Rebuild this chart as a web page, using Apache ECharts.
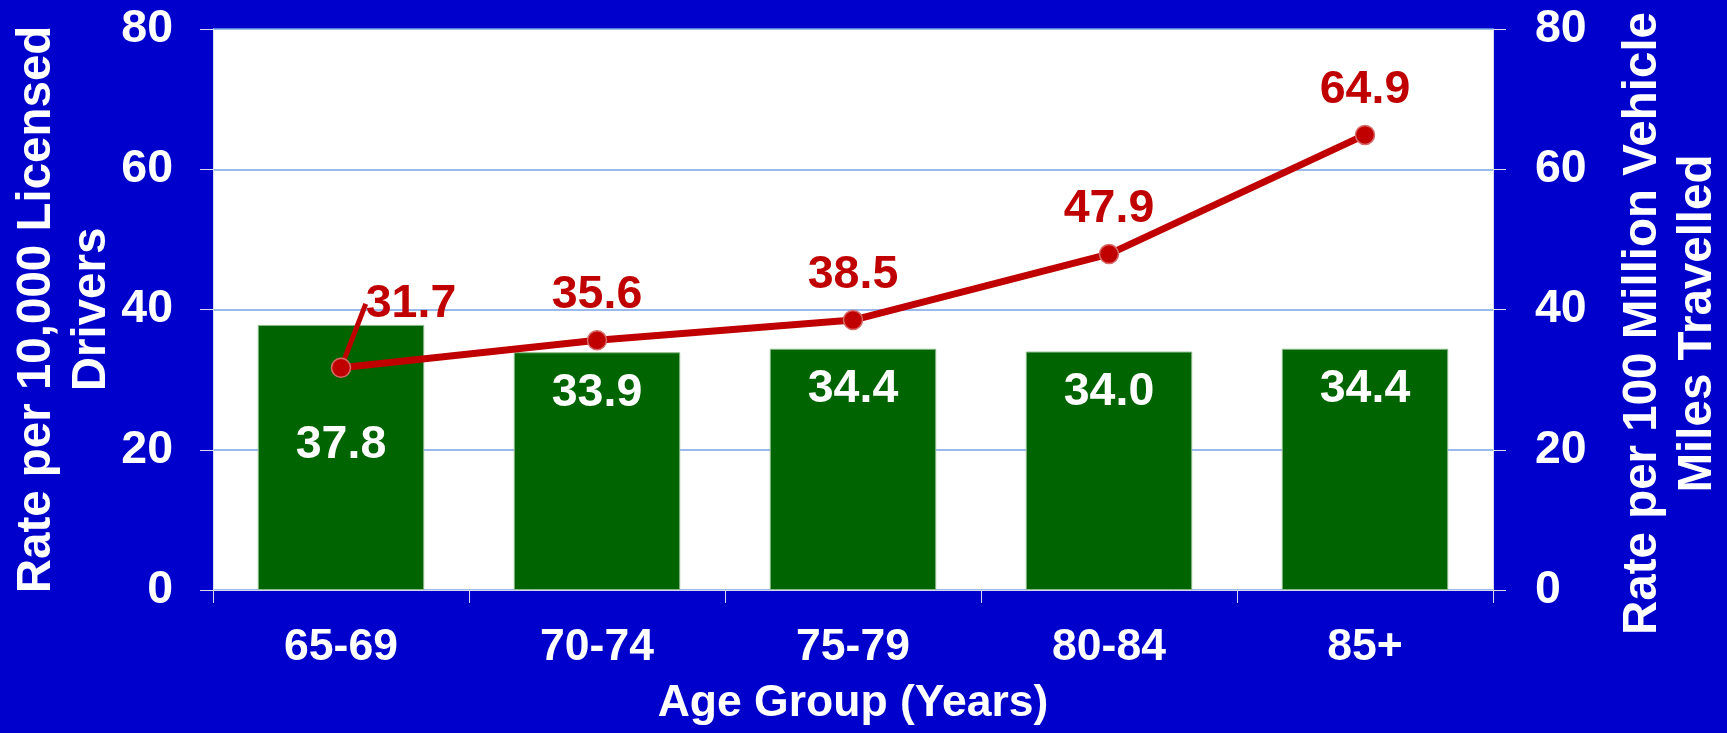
<!DOCTYPE html>
<html>
<head>
<meta charset="utf-8">
<script src="https://cdn.jsdelivr.net/npm/echarts@6/dist/echarts.min.js"></script>
<style>
html,body{margin:0;padding:0;background:#0000CC;}
#c{width:1727px;height:733px;}
</style>
</head>
<body>
<div id="c"></div>
<script>
var categories = ['65-69', '70-74', '75-79', '80-84', '85+'];
var licensedRate = [37.8, 33.9, 34.4, 34.0, 34.4];
var vmtRate = [31.7, 35.6, 38.5, 47.9, 64.9];
var yTicks = [0, 20, 40, 60, 80];

var FONT = 'Liberation Sans, Arial, sans-serif';
var chart = echarts.init(document.getElementById('c'));

var barData = licensedRate.map(function (v, i) {
  if (i === 0) return { value: v, label: { distance: 97 } };
  return v;
});
var lineData = vmtRate.map(function (v, i) {
  if (i === 0) return { value: v, labelLine: { show: true } };
  return v;
});

chart.setOption({
  backgroundColor: '#0000CC',
  animation: false,
  grid: { left: 213, right: 234, top: 29, bottom: 143, backgroundColor: '#ffffff', show: true, borderWidth: 0,
    containLabel: false, outerBoundsMode: 'none' },
  xAxis: {
    type: 'category',
    data: categories,
    name: 'Age Group (Years)',
    nameLocation: 'middle',
    nameGap: 91,
    nameMoveOverlap: false,
    nameTextStyle: { color: '#ffffff', fontSize: 44.5, fontWeight: 'bold', fontFamily: FONT },
    axisLine: { show: true, lineStyle: { color: '#d8d8f0', width: 1 } },
    axisTick: { show: true, length: 13, lineStyle: { color: '#d8d8f0', width: 1 } },
    axisLabel: { color: '#ffffff', fontSize: 44.5, fontWeight: 'bold', fontFamily: FONT, margin: 35 }
  },
  yAxis: [
    {
      type: 'value', min: 0, max: 80, interval: 20,
      name: 'Rate per 10,000 Licensed\nDrivers',
      nameLocation: 'middle',
      nameGap: 94,
      nameMoveOverlap: false,
      nameTextStyle: { color: '#ffffff', fontSize: 47.5, fontWeight: 'bold', fontFamily: FONT, lineHeight: 55 },
      axisLine: { show: true, lineStyle: { color: '#d8d8f0', width: 1 } },
      axisTick: { show: true, length: 13, lineStyle: { color: '#d8d8f0', width: 1 } },
      axisLabel: { color: '#ffffff', fontSize: 46.5, fontWeight: 'bold', fontFamily: FONT, margin: 40,
        formatter: function (v) { return yTicks.indexOf(v) >= 0 ? String(v) : ''; } },
      splitLine: { show: true, lineStyle: { color: '#7aa3e6', width: 1.5 } }
    },
    {
      type: 'value', min: 0, max: 80, interval: 20,
      position: 'right',
      name: 'Rate per 100 Million Vehicle\nMiles Travelled',
      nameLocation: 'middle',
      nameGap: 122,
      nameMoveOverlap: false,
      nameTextStyle: { color: '#ffffff', fontSize: 47.5, fontWeight: 'bold', fontFamily: FONT, lineHeight: 55,
        padding: [0, 28, 0, 0] },
      axisLine: { show: true, lineStyle: { color: '#d8d8f0', width: 1 } },
      axisTick: { show: true, length: 13, lineStyle: { color: '#d8d8f0', width: 1 } },
      axisLabel: { color: '#ffffff', fontSize: 46.5, fontWeight: 'bold', fontFamily: FONT, margin: 42,
        formatter: function (v) { return yTicks.indexOf(v) >= 0 ? String(v) : ''; } },
      splitLine: { show: false }
    }
  ],
  series: [
    {
      type: 'bar',
      data: barData,
      barWidth: '65%',
      itemStyle: { color: '#006400', borderColor: '#8ab88a', borderWidth: 1 },
      label: {
        show: true, position: 'insideTop', distance: 17,
        color: '#ffffff', fontSize: 46.5, fontWeight: 'bold', fontFamily: FONT,
        formatter: function (p) { return p.value.toFixed(1); }
      },
      z: 2
    },
    {
      type: 'line',
      yAxisIndex: 1,
      data: lineData,
      symbol: 'circle',
      symbolSize: 19,
      lineStyle: { color: '#C00000', width: 7 },
      itemStyle: { color: '#C00000', borderColor: '#d86a6a', borderWidth: 1.5 },
      label: {
        show: true, position: 'top', distance: 11,
        color: '#C00000', fontSize: 46.5, fontWeight: 'bold', fontFamily: FONT,
        formatter: function (p) { return p.value.toFixed(1); }
      },
      labelLine: { show: false, lineStyle: { color: '#C00000', width: 5 } },
      labelLayout: function (p) {
        if (p.dataIndex === 0) return { dx: 70, dy: -19 };
        return {};
      },
      z: 5
    }
  ]
});
</script>
</body>
</html>
